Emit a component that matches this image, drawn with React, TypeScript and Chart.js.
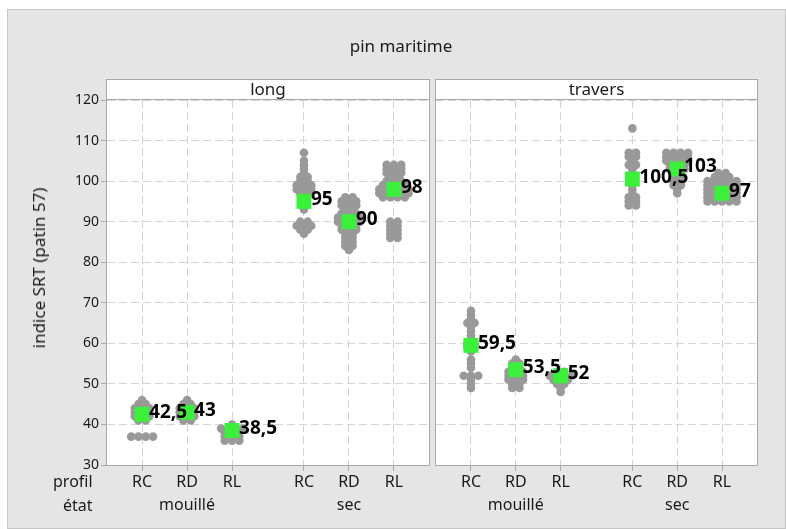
import React, { useEffect, useRef } from "react";
import { Chart, registerables } from "chart.js";

Chart.register(...registerables);

const FONT = "'Noto Sans', 'DejaVu Sans', sans-serif";

// ---- texts / categories ----
const chartTitle = "pin maritime";
const yAxisTitle = "indice SRT (patin 57)";
const panels = ["long", "travers"];
const profils = ["RC", "RD", "RL"];
const etats = ["mouillé", "sec"];
const rowLabels = ["profil", "état"];
const yMin = 30;
const yMax = 120;
const yStep = 10;

// ---- values (individual observations) ----
const longMouilleRC = [46, 45, 45, 44, 44, 44, 43, 43, 43, 42, 42, 42, 41, 41, 37, 37, 37, 37];
const longMouilleRD = [46, 45, 45, 44, 44, 44, 43, 43, 43, 42, 42, 42, 41, 41];
const longMouilleRL = [40, 39, 39, 39, 39, 38, 38, 38, 37, 37, 37, 36, 36, 36];
const longSecRC = [107, 105, 104, 103, 102, 101, 101, 100, 100, 99, 99, 99, 98, 98, 98, 97, 97, 96, 93, 90, 90, 89, 89, 89, 88, 88, 87];
const longSecRD = [96, 96, 95, 95, 95, 94, 94, 94, 93, 93, 92, 92, 92, 91, 91, 91, 91, 90, 90, 90, 90, 89, 89, 89, 88, 88, 88, 87, 87, 86, 86, 85, 85, 84, 84, 83];
const longSecRL = [104, 104, 104, 103, 103, 103, 102, 102, 102, 101, 101, 100, 100, 100, 99, 99, 99, 99, 98, 98, 98, 98, 98, 97, 97, 97, 97, 97, 96, 96, 96, 96, 90, 90, 89, 89, 88, 88, 87, 87, 86, 86];

const traversMouilleRC = [68, 67, 66, 65, 65, 64, 63, 62, 61, 60, 60, 59, 59, 58, 56, 55, 54, 52, 52, 52, 51, 50, 49];
const traversMouilleRD = [56, 55, 55, 54, 54, 53, 53, 53, 52, 52, 52, 51, 51, 51, 50, 50, 49, 49];
const traversMouilleRL = [53, 53, 52, 52, 52, 52, 51, 51, 51, 50, 50, 49, 48];
const traversSecRC = [113, 107, 107, 106, 106, 105, 104, 104, 103, 102, 101, 100, 99, 98, 97, 96, 96, 95, 95, 94, 94];
const traversSecRD = [107, 107, 107, 107, 106, 106, 106, 106, 105, 105, 105, 105, 104, 104, 104, 103, 103, 103, 102, 102, 101, 101, 100, 100, 99, 99, 98, 97];
const traversSecRL = [102, 102, 101, 101, 101, 100, 100, 100, 100, 100, 99, 99, 99, 99, 99, 98, 98, 98, 98, 98, 97, 97, 97, 97, 97, 96, 96, 96, 96, 96, 95, 95, 95, 95, 95];

// medians (green squares)
const longMedians = [42.5, 43, 38.5, 95, 90, 98];
const traversMedians = [59.5, 53.5, 52, 100.5, 103, 97];

const longGroups = [longMouilleRC, longMouilleRD, longMouilleRL, longSecRC, longSecRD, longSecRL];
const traversGroups = [traversMouilleRC, traversMouilleRD, traversMouilleRL, traversSecRC, traversSecRD, traversSecRL];

// ---- layout constants ----
const CAT_POS = [1, 2, 3, 4.6, 5.6, 6.6];
const X_MIN = 0.22;
const X_MAX = 7.38;
const DOT_STEP = 0.162;
const STRIP_H = 20;
const GREEN = "#3bef3b";
const DOT = "#999999";
const GRID = "#d4d4d4";
const FRAME = "#a8a8a8";

function stackDots(values: number[], center: number) {
  const counts = new Map<number, number>();
  values.forEach((v) => counts.set(v, (counts.get(v) || 0) + 1));
  const seen = new Map<number, number>();
  return values.map((v) => {
    const n = counts.get(v) as number;
    const i = seen.get(v) || 0;
    seen.set(v, i + 1);
    return { x: center + (i - (n - 1) / 2) * DOT_STEP, y: v };
  });
}

const fmt = (v: number) => String(v).replace(".", ",");

function panelPlugin(label: string, medians: number[]) {
  return {
    id: "panelDeco",
    beforeDraw(chart: any) {
      const { ctx, chartArea: a } = chart;
      ctx.save();
      ctx.fillStyle = "#ffffff";
      ctx.fillRect(a.left, a.top - STRIP_H, a.right - a.left, a.bottom - a.top + STRIP_H);
      ctx.restore();
    },
    afterDatasetsDraw(chart: any) {
      const { ctx } = chart;
      const meta = chart.getDatasetMeta(0);
      ctx.save();
      ctx.font = `bold 19px ${FONT}`;
      ctx.fillStyle = "#000000";
      ctx.textAlign = "left";
      ctx.textBaseline = "alphabetic";
      meta.data.forEach((pt: any, i: number) => {
        ctx.fillText(fmt(medians[i]), pt.x + 7, pt.y + 3.5);
      });
      ctx.restore();
    },
    afterDraw(chart: any) {
      const { ctx, chartArea: a } = chart;
      ctx.save();
      ctx.strokeStyle = FRAME;
      ctx.lineWidth = 1;
      ctx.strokeRect(a.left - 0.5, a.top - STRIP_H - 0.5, a.right - a.left + 1, a.bottom - a.top + STRIP_H + 1);
      ctx.beginPath();
      ctx.moveTo(a.left, a.top - 0.5);
      ctx.lineTo(a.right, a.top - 0.5);
      ctx.stroke();
      ctx.font = `17px ${FONT}`;
      ctx.fillStyle = "#1a1a1a";
      ctx.textAlign = "center";
      ctx.textBaseline = "alphabetic";
      ctx.fillText(label, (a.left + a.right) / 2, a.top - 5);
      ctx.restore();
    },
  };
}

function makeConfig(panelIdx: number, groups: number[][], medians: number[], isLeft: boolean): any {
  const dots = groups.flatMap((g, gi) => stackDots(g, CAT_POS[gi]));
  const med = medians.map((m, i) => ({ x: CAT_POS[i], y: m }));
  return {
    type: "scatter",
    data: {
      datasets: [
        { data: med, pointStyle: "rect", pointRadius: 10.6, backgroundColor: GREEN, borderWidth: 0, order: 0 },
        { data: dots, pointStyle: "circle", pointRadius: 4.3, backgroundColor: DOT, borderWidth: 0, order: 1 },
      ],
    },
    options: {
      animation: false,
      responsive: false,
      maintainAspectRatio: false,
      events: [],
      layout: { autoPadding: false, padding: { top: 90, right: isLeft ? 3 : 28, bottom: 0, left: isLeft ? 0 : 4 } },
      plugins: { legend: { display: false }, tooltip: { enabled: false }, title: { display: false } },
      scales: {
        x: {
          type: "linear",
          min: X_MIN,
          max: X_MAX,
          afterBuildTicks: (axis: any) => {
            axis.ticks = CAT_POS.map((v) => ({ value: v }));
          },
          afterFit: (axis: any) => {
            axis.height = 64;
            axis.paddingLeft = 0;
            axis.paddingRight = 0;
          },
          ticks: {
            autoSkip: false,
            maxRotation: 0,
            padding: 0,
            color: "#1a1a1a",
            font: { family: FONT, size: 16, lineHeight: "23px" },
            callback: (_v: number, i: number) => [profils[i % 3], i % 3 === 1 ? etats[Math.floor(i / 3)] : ""],
          },
          grid: { color: GRID, lineWidth: 1, tickLength: 6, tickColor: FRAME, tickBorderDash: [] },
          border: { display: false, dash: [8, 4] },
        },
        y: {
          min: yMin,
          max: yMax,
          ticks: {
            stepSize: yStep,
            display: isLeft,
            padding: 2,
            color: "#1a1a1a",
            font: { family: FONT, size: 14 },
          },
          grid: { color: GRID, lineWidth: 1, tickLength: 6, drawTicks: isLeft, tickColor: FRAME, tickBorderDash: [] },
          border: { display: false, dash: [8, 4] },
          afterFit: (axis: any) => {
            axis.width = isLeft ? 99 : 0;
            axis.paddingTop = 0;
            axis.paddingBottom = 0;
          },
        },
      },
    },
    plugins: [panelPlugin(panels[panelIdx], medians)],
  };
}

export default function App() {
  const leftRef = useRef<HTMLCanvasElement>(null);
  const rightRef = useRef<HTMLCanvasElement>(null);

  useEffect(() => {
    document.body.style.overflow = "hidden";
    Chart.defaults.font.family = FONT;
    const c1 = new Chart(leftRef.current as HTMLCanvasElement, makeConfig(0, longGroups, longMedians, true));
    const c2 = new Chart(rightRef.current as HTMLCanvasElement, makeConfig(1, traversGroups, traversMedians, false));
    return () => {
      c1.destroy();
      c2.destroy();
    };
  }, []);

  const txt: React.CSSProperties = { position: "absolute", whiteSpace: "nowrap", lineHeight: "20px" };

  return (
    <div
      style={{
        position: "fixed",
        left: 7,
        top: 9,
        width: 779,
        height: 520,
        boxSizing: "border-box",
        border: "1px solid #c6c6c6",
        background: "#e5e5e5",
        overflow: "hidden",
        fontFamily: FONT,
        color: "#1a1a1a",
      }}
    >
      <canvas ref={leftRef} width={424} height={519} style={{ position: "absolute", left: 0, top: 0, width: 424, height: 519 }} />
      <canvas ref={rightRef} width={353} height={519} style={{ position: "absolute", left: 424, top: 0, width: 353, height: 519 }} />
      <div style={{ ...txt, left: 193, top: 26, width: 400, textAlign: "center", fontSize: 17 }}>{chartTitle}</div>
      <div style={{ ...txt, left: 31, top: 258, fontSize: 17, transform: "translate(-50%, -50%) rotate(-90deg)" }}>{yAxisTitle}</div>
      <div style={{ ...txt, left: 45, top: 461, fontSize: 16 }}>{rowLabels[0]}</div>
      <div style={{ ...txt, left: 55, top: 485, fontSize: 16 }}>{rowLabels[1]}</div>
    </div>
  );
}
